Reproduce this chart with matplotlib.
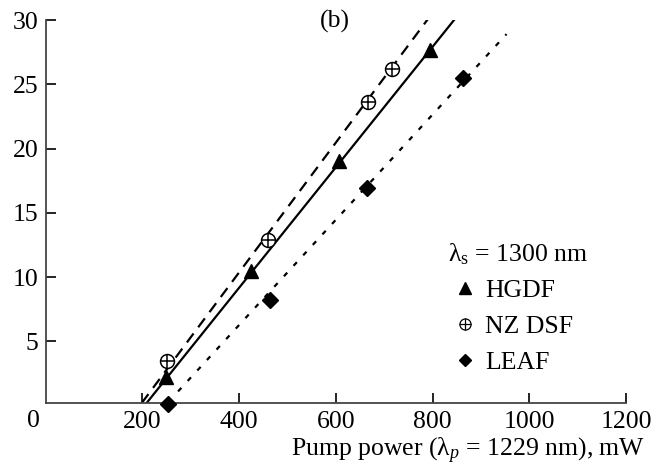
import matplotlib
matplotlib.use("Agg")
import matplotlib.pyplot as plt
from matplotlib.lines import Line2D
from matplotlib.legend_handler import HandlerTuple

plt.rcParams['font.family'] = ['Liberation Serif', 'DejaVu Serif']
plt.rcParams['mathtext.fontset'] = 'custom'
plt.rcParams['mathtext.rm'] = 'Liberation Serif'
plt.rcParams['mathtext.it'] = 'Liberation Serif:italic'

# Data
hgdf_x = [250, 425, 606, 795]
hgdf_y = [2.2, 10.45, 19.0, 27.7]
nzdsf_x = [252, 460, 666, 717]
nzdsf_y = [3.5, 12.9, 23.6, 26.2]
leaf_x = [254, 464, 664, 864]
leaf_y = [0.15, 8.2, 16.9, 25.5]

# Fitted lines (endpoints)
hgdf_fit_x = [209, 851]
hgdf_fit_y = [0.2, 30.3]
nzdsf_fit_x = [199, 795]
nzdsf_fit_y = [0.2, 30.3]
leaf_fit_x = [274, 953]
leaf_fit_y = [1.1, 28.9]

x_ticks = [200, 400, 600, 800, 1000, 1200]
y_ticks = [5, 10, 15, 20, 25, 30]

FS = 18.5
W, H = 665, 468
fig = plt.figure(figsize=(W / 100, H / 100), dpi=100)
left, right, bottom, top = 45.5, 626, 403, 20
ax = fig.add_axes([left / W, 1 - bottom / H, (right - left) / W, (bottom - top) / H])

ax.plot(hgdf_fit_x, hgdf_fit_y, color='black', lw=1.6, ls='-')
ax.plot(nzdsf_fit_x, nzdsf_fit_y, color='black', lw=1.6, ls=(0, (5, 3.5)))
ax.plot(leaf_fit_x, leaf_fit_y, color='black', lw=1.6, ls=(0, (2.2, 4.2)))

ax.plot(hgdf_x, hgdf_y, ls='none', marker='^', ms=10, color='black', clip_on=False, zorder=5)
ax.plot(nzdsf_x, nzdsf_y, ls='none', marker='o', ms=10, mfc='white', mec='black', mew=1.1, clip_on=False, zorder=5)
ax.plot(nzdsf_x, nzdsf_y, ls='none', marker='+', ms=10, mec='black', mew=1.1, clip_on=False, zorder=6)
ax.plot(leaf_x, leaf_y, ls='none', marker='D', ms=8.5, color='black', clip_on=False, zorder=5)

ax.set_xlim(0, 1200)
ax.set_ylim(0.2, 30)
ax.set_xticks(x_ticks)
ax.set_yticks(y_ticks)
ax.set_xticklabels([str(t) for t in x_ticks])
ax.set_yticklabels([str(t) for t in y_ticks])
ax.tick_params(direction='in', length=7, width=1.2, labelsize=FS, colors='black')
ax.tick_params(axis='x', pad=6)
ax.tick_params(axis='y', pad=5)
for s in ['top', 'right']:
    ax.spines[s].set_visible(False)
for s in ['left', 'bottom']:
    ax.spines[s].set_linewidth(1.3)
    ax.spines[s].set_color('#444444')

fig.text(33 / W, 1 - 421 / H, '0', fontsize=FS, ha='center', va='center')
fig.text(645 / W, 1 - 451 / H, r'Pump power ($\mathrm{λ}_p$ = 1229 nm), mW', fontsize=FS, ha='right', va='center')
fig.text(335 / W, 1 - 21 / H, '(b)', fontsize=FS, ha='center', va='center')

h_tri = Line2D([], [], ls='none', marker='^', ms=8, color='black')
h_circ = Line2D([], [], ls='none', marker='o', ms=8, mfc='white', mec='black', mew=0.9)
h_plus = Line2D([], [], ls='none', marker='+', ms=8, mec='black', mew=0.9)
h_dia = Line2D([], [], ls='none', marker='D', ms=6.5, color='black')
leg = ax.legend([h_tri, (h_circ, h_plus), h_dia], ['HGDF', 'NZ DSF', 'LEAF'],
                handler_map={tuple: HandlerTuple(ndivide=1, pad=0)},
                title=r'$\mathrm{λ}_\mathrm{s}$ = 1300 nm', title_fontsize=FS, fontsize=FS,
                loc='upper left', bbox_to_anchor=(448 / W, 1 - 241 / H), bbox_transform=fig.transFigure,
                frameon=False, handlelength=1.3, handletextpad=0.15, labelspacing=0.5, borderpad=0,
                borderaxespad=0)
leg._legend_box.align = 'left'

fig.savefig('out.png', dpi=100)
